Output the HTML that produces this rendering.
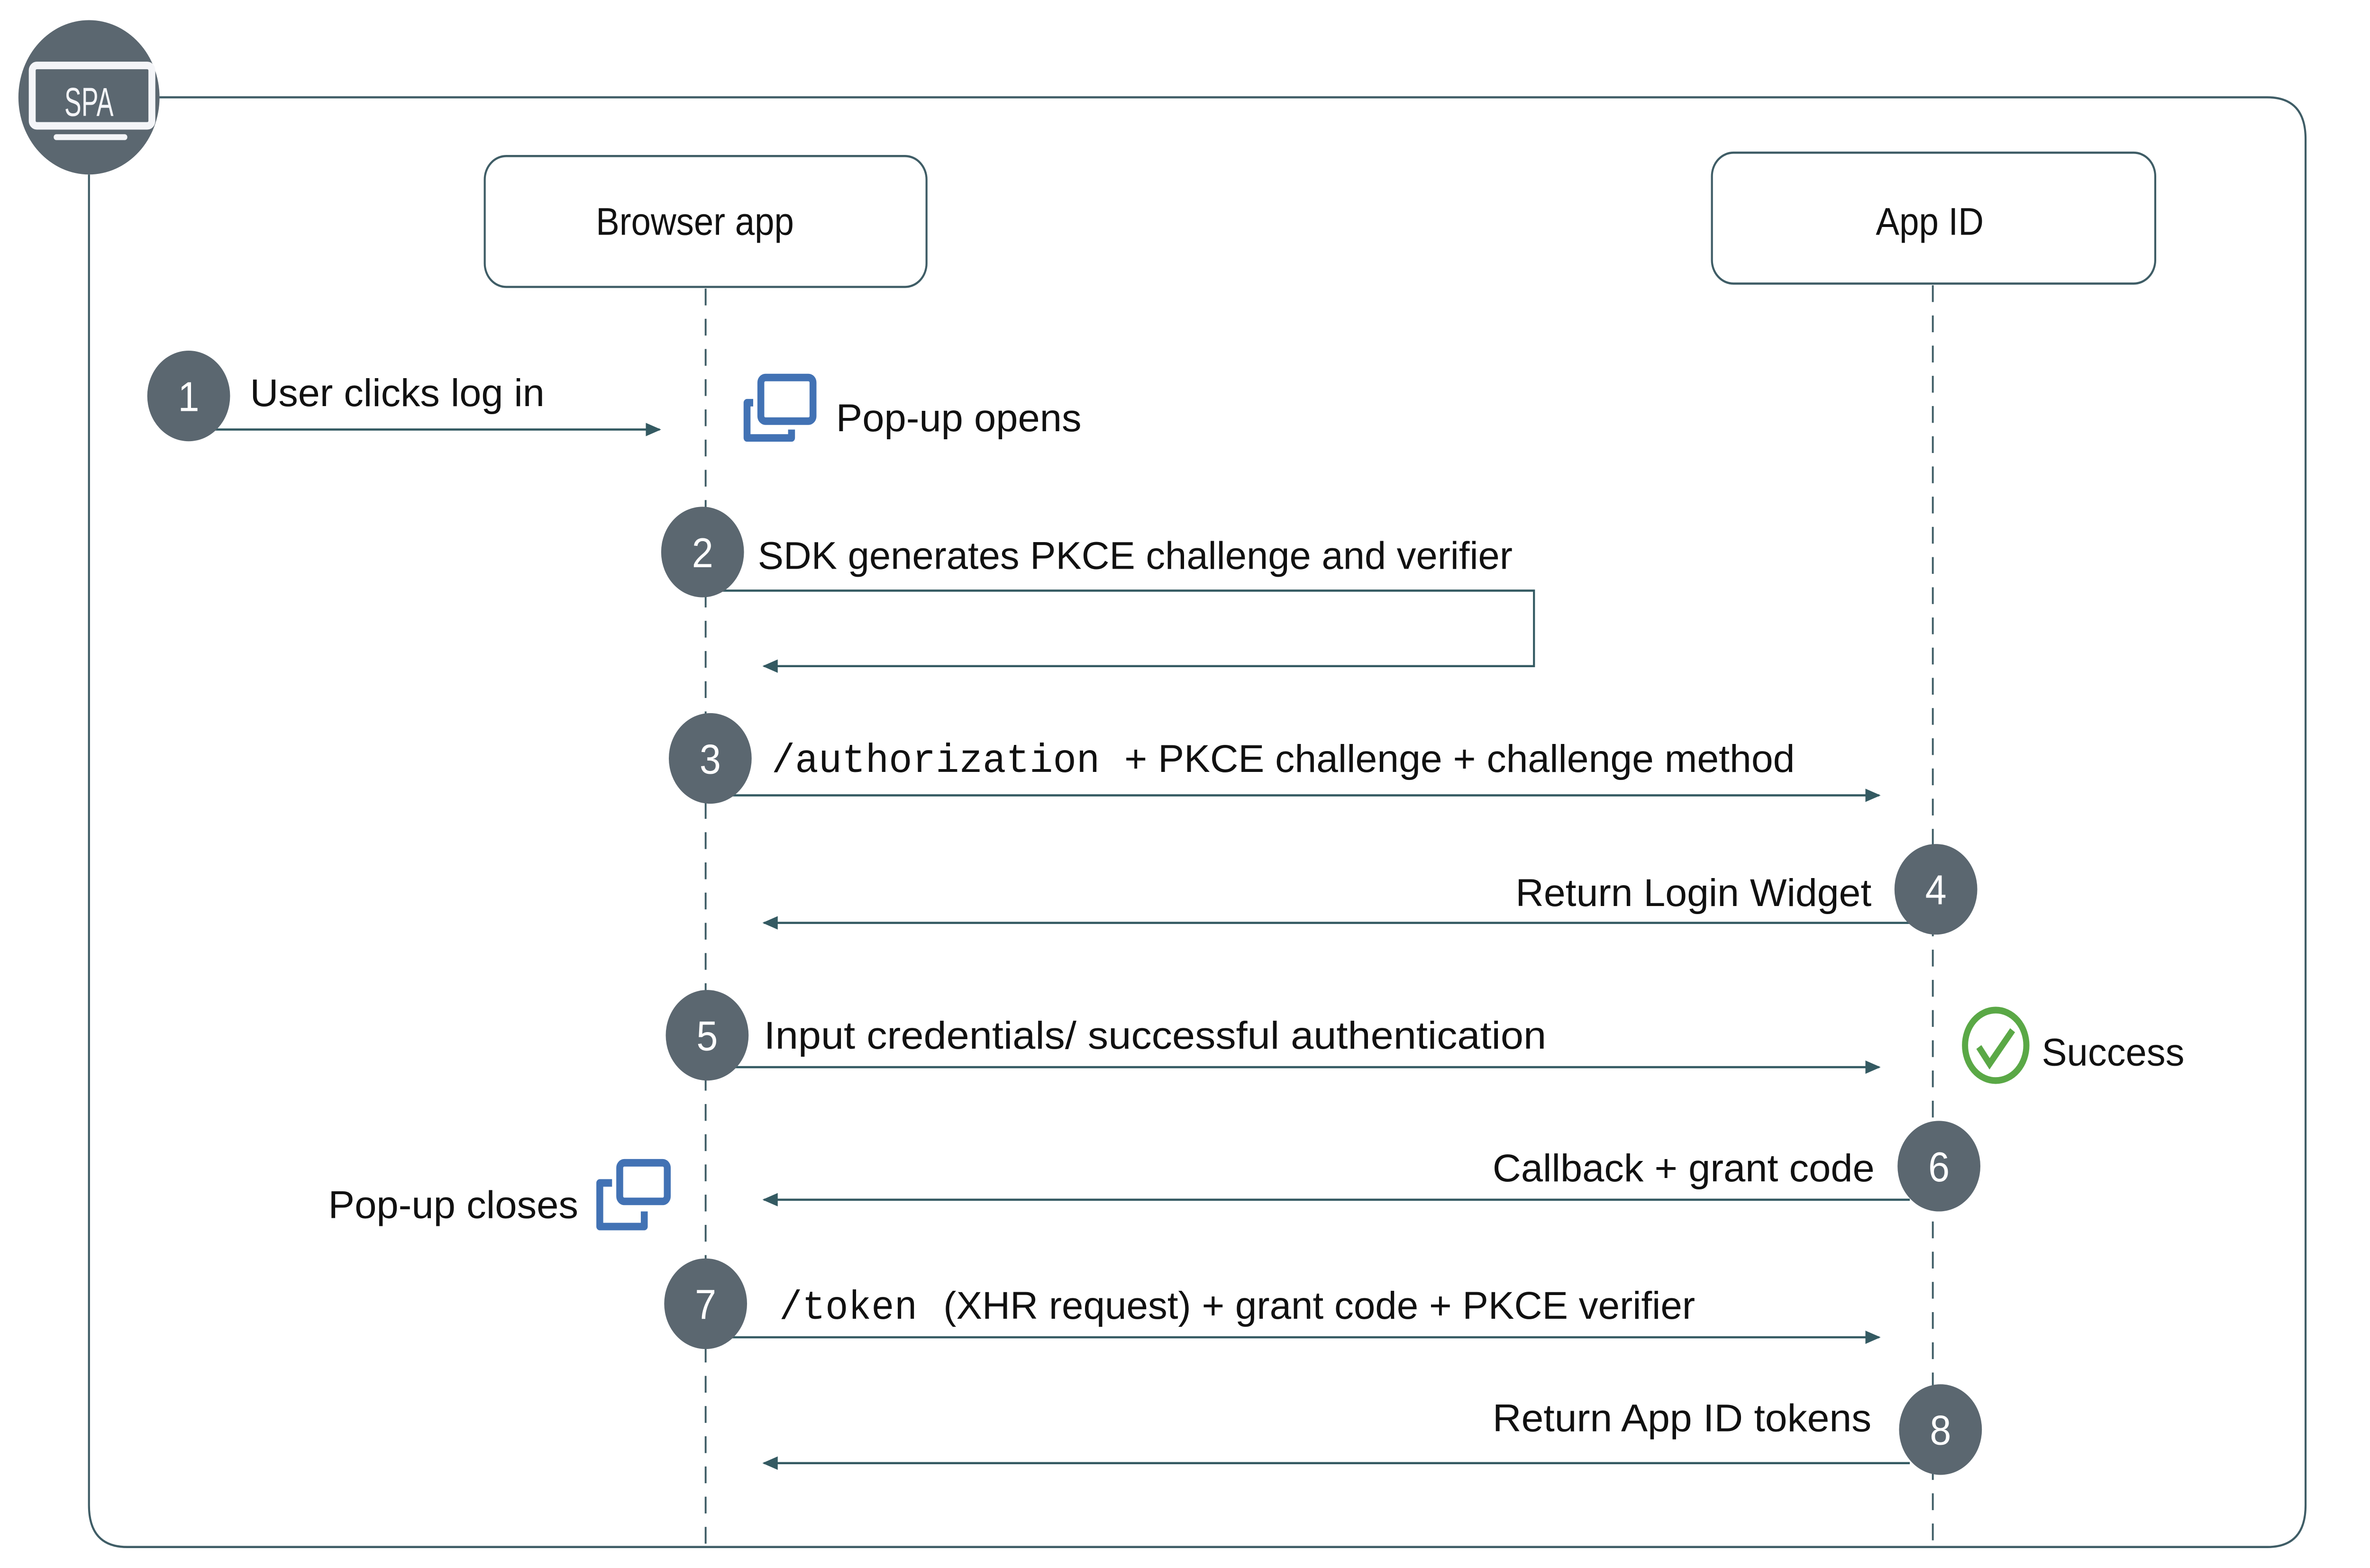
<!DOCTYPE html>
<html><head><meta charset="utf-8"><style>
html,body{margin:0;padding:0;background:#fff;overflow:hidden;width:100vw;height:100vh;}
svg{display:block;width:100vw;height:100vh;position:absolute;left:0;top:0;}
text{font-family:"Liberation Sans",sans-serif;fill:#111;}
.m{font-family:"Liberation Mono",monospace;}
.n{fill:#fff;font-size:25px;text-anchor:middle;}
</style></head><body>
<svg viewBox="0 0 1545 934.5" preserveAspectRatio="none" xmlns="http://www.w3.org/2000/svg">
<defs>
<marker id="a" markerWidth="10" markerHeight="8" refX="9" refY="4" orient="auto" markerUnits="userSpaceOnUse">
<path d="M0,0 L10,4 L0,8 Z" fill="#345a62"/></marker>
</defs>
<path d="M104,58 H1478 Q1503,58 1503,83 V897 Q1503,922 1478,922 H83 Q58,922 58,897 V104" fill="none" stroke="#3f5d66" stroke-width="1.3"/>
<circle cx="58" cy="58" r="46" fill="#5b6770"/>
<rect x="21" y="39" width="78" height="36" rx="3" fill="none" stroke="#f4f5f8" stroke-width="4.5"/>
<rect x="35" y="80" width="48" height="3.5" rx="1.7" fill="#f4f5f8"/>
<text x="58" y="69" text-anchor="middle" style="fill:#f4f5f8;font-size:24px" textLength="32" lengthAdjust="spacingAndGlyphs">SPA</text>
<rect x="316" y="93" width="288" height="78" rx="14" fill="#fff" stroke="#3f5d66" stroke-width="1.3"/>
<text x="453" y="140" text-anchor="middle" font-size="23">Browser app</text>
<rect x="1116" y="91" width="289" height="78" rx="14" fill="#fff" stroke="#3f5d66" stroke-width="1.3"/>
<text x="1258" y="140" text-anchor="middle" font-size="23">App ID</text>
<line x1="460" y1="172" x2="460" y2="922" stroke="#3f5d66" stroke-width="1.2" stroke-dasharray="10,8"/>
<line x1="1260" y1="170" x2="1260" y2="922" stroke="#3f5d66" stroke-width="1.2" stroke-dasharray="10,8"/>
<g stroke="#345a62" stroke-width="1.3" fill="none">
<line x1="140" y1="256" x2="430" y2="256" marker-end="url(#a)"/>
<polyline points="470,352 1000,352 1000,397 498,397" marker-end="url(#a)"/>
<line x1="475" y1="474" x2="1225" y2="474" marker-end="url(#a)"/>
<line x1="1245" y1="550" x2="498" y2="550" marker-end="url(#a)"/>
<line x1="475" y1="636" x2="1225" y2="636" marker-end="url(#a)"/>
<line x1="1245" y1="715" x2="498" y2="715" marker-end="url(#a)"/>
<line x1="475" y1="797" x2="1225" y2="797" marker-end="url(#a)"/>
<line x1="1245" y1="872" x2="498" y2="872" marker-end="url(#a)"/>
</g>
<g fill="#5b6770">
<circle cx="123" cy="236" r="27"/>
<circle cx="458" cy="329" r="27"/>
<circle cx="463" cy="452" r="27"/>
<circle cx="1262" cy="530" r="27"/>
<circle cx="461" cy="617" r="27"/>
<circle cx="1264" cy="695" r="27"/>
<circle cx="460" cy="777" r="27"/>
<circle cx="1265" cy="852" r="27"/>
</g>
<text class="n" x="123" y="245">1</text>
<text class="n" x="458" y="338">2</text>
<text class="n" x="463" y="461">3</text>
<text class="n" x="1262" y="539">4</text>
<text class="n" x="461" y="626">5</text>
<text class="n" x="1264" y="704">6</text>
<text class="n" x="460" y="786">7</text>
<text class="n" x="1265" y="861">8</text>
<text x="163" y="242" font-size="23" textLength="192" lengthAdjust="spacingAndGlyphs">User clicks log in</text>
<text x="545" y="257" font-size="23" textLength="160" lengthAdjust="spacingAndGlyphs">Pop-up opens</text>
<text x="494" y="339" font-size="23" textLength="492" lengthAdjust="spacingAndGlyphs">SDK generates PKCE challenge and verifier</text>
<text class="m" x="503" y="460" font-size="24" textLength="214" lengthAdjust="spacingAndGlyphs">/authorization</text>
<text x="733" y="460" font-size="23" textLength="437" lengthAdjust="spacingAndGlyphs">+ PKCE challenge + challenge method</text>
<text x="1220" y="540" font-size="23" text-anchor="end" textLength="232" lengthAdjust="spacingAndGlyphs">Return Login Widget</text>
<text x="498" y="625" font-size="23" textLength="510" lengthAdjust="spacingAndGlyphs">Input credentials/ successful authentication</text>
<text x="1331" y="635" font-size="23" textLength="93" lengthAdjust="spacingAndGlyphs">Success</text>
<text x="1222" y="704" font-size="23" text-anchor="end" textLength="249" lengthAdjust="spacingAndGlyphs">Callback + grant code</text>
<text x="377" y="726" font-size="23" text-anchor="end" textLength="163" lengthAdjust="spacingAndGlyphs">Pop-up closes</text>
<text class="m" x="508" y="786" font-size="24" textLength="90" lengthAdjust="spacingAndGlyphs">/token</text>
<text x="615" y="786" font-size="23" textLength="490" lengthAdjust="spacingAndGlyphs">(XHR request) + grant code + PKCE verifier</text>
<text x="1220" y="853" font-size="23" text-anchor="end" textLength="247" lengthAdjust="spacingAndGlyphs">Return App ID tokens</text>
<g fill="none" stroke="#4272b4" stroke-width="4.5" stroke-linejoin="round">
<rect x="496" y="225" width="34" height="26" rx="3"/>
<path d="M491,240 H487 V261 H516 V256"/>
<rect x="404" y="693" width="31" height="23" rx="3"/>
<path d="M399,705 H391 V731 H420 V722"/>
</g>
<ellipse cx="1301" cy="623" rx="20" ry="21" fill="none" stroke="#5aa846" stroke-width="4"/>
<polyline points="1290,624 1297,634 1312,614" fill="none" stroke="#5aa846" stroke-width="4"/>
</svg>
</body></html>
